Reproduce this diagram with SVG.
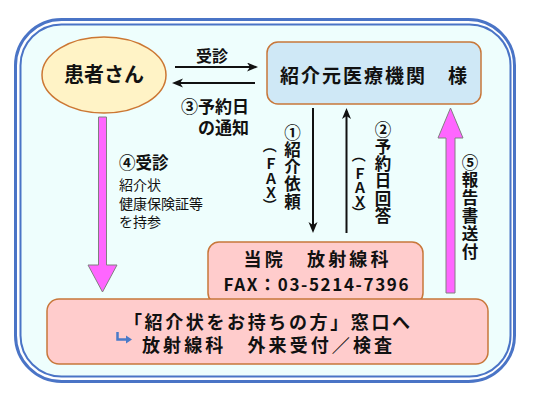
<svg xmlns="http://www.w3.org/2000/svg" width="534" height="400" viewBox="0 0 534 400">
<defs>
<style>
text{font-family:"Noto Sans CJK JP","Noto Sans",sans-serif;fill:#111;dominant-baseline:central}
.b{font-weight:bold}
.box{stroke:#c8773a;stroke-width:1.5}
.pink{fill:#ffcccc}
.ln{stroke:#111;stroke-width:2;fill:none}
.pa{fill:#ff66ff;stroke:#808080;stroke-width:1}
.vc{font-weight:bold;text-anchor:middle;font-size:16.5px}
.vf{font-weight:bold;text-anchor:middle;font-size:14px}
</style>
<marker id="ah" markerUnits="userSpaceOnUse" markerWidth="12" markerHeight="10" refX="8" refY="4.5" orient="auto">
<path d="M0,0 L11,4.5 L0,9 L3,4.5 z" fill="#111"/>
</marker>
</defs>
<rect width="534" height="400" fill="#fff"/>
<g id="frame">
<rect x="15.5" y="19.5" width="499" height="362" rx="46" fill="#fff" stroke="#4a74c6" stroke-width="3"/>
<rect x="20.5" y="24.5" width="490" height="352" rx="41" fill="#eefefd" stroke="#4a74c6" stroke-width="2"/>
</g>
<g id="connectors">
<line class="ln" x1="175" y1="67" x2="255" y2="67" marker-end="url(#ah)"/>
<line class="ln" x1="255" y1="83" x2="175" y2="83" marker-end="url(#ah)"/>
<line class="ln" x1="313" y1="108" x2="313" y2="230" marker-end="url(#ah)"/>
<line class="ln" x1="346.5" y1="233" x2="346.5" y2="111" marker-end="url(#ah)"/>
<polygon class="pa" points="98.5,117 106.5,117 106.5,265 117,265 102.5,292 88,265 98.5,265"/>
<polygon class="pa" points="446,293 455,293 455,138 463,138 450.5,108 438,138 446,138"/>
</g>
<g id="labels">
<text x="212" y="55" font-size="16" text-anchor="middle" class="b">受診</text>
<text x="249" y="105.5" font-size="17" text-anchor="end" class="b">③予約日</text>
<text x="249" y="126.5" font-size="17" text-anchor="end" class="b">の通知</text>
<text x="119" y="162" font-size="16.5" class="b">④受診</text>
<text x="119" y="183.5" font-size="14">紹介状</text>
<text x="119" y="202.5" font-size="14">健康保険証等</text>
<text x="119" y="220.5" font-size="14">を持参</text>
<g id="label1">
<text class="vc"><tspan x="292.5" y="131.5">①</tspan><tspan x="292.5" y="148.8">紹</tspan><tspan x="292.5" y="166.1">介</tspan><tspan x="292.5" y="183.4">依</tspan><tspan x="292.5" y="200.7">頼</tspan></text>
</g>
<g id="fax1">
<text class="vf" x="271" y="146" transform="rotate(90 271 146)">（</text>
<text class="vf"><tspan x="271" y="163">Ｆ</tspan><tspan x="271" y="177.5">Ａ</tspan><tspan x="271" y="192">Ｘ</tspan></text>
<text class="vf" x="271" y="205" transform="rotate(90 271 205)">）</text>
</g>
<g id="label2">
<text class="vc"><tspan x="383" y="128.5">②</tspan><tspan x="383" y="145.8">予</tspan><tspan x="383" y="163.1">約</tspan><tspan x="383" y="180.4">日</tspan><tspan x="383" y="197.7">回</tspan><tspan x="383" y="215">答</tspan></text>
</g>
<g id="fax2">
<text class="vf" x="360" y="155.5" transform="rotate(90 360 155.5)">（</text>
<text class="vf"><tspan x="360" y="173">Ｆ</tspan><tspan x="360" y="187">Ａ</tspan><tspan x="360" y="200.5">Ｘ</tspan></text>
<text class="vf" x="360" y="212.5" transform="rotate(90 360 212.5)">）</text>
</g>
<g id="label5">
<text class="vc"><tspan x="470" y="161.5">⑤</tspan><tspan x="470" y="179.3">報</tspan><tspan x="470" y="197.1">告</tspan><tspan x="470" y="214.9">書</tspan><tspan x="470" y="232.7">送</tspan><tspan x="470" y="250.5">付</tspan></text>
</g>
</g>
<g id="patient">
<ellipse cx="104" cy="75" rx="62" ry="38" fill="#fff3c6" stroke="#cc7733" stroke-width="1.5"/>
<text x="104" y="73.5" font-size="20" text-anchor="middle" class="b">患者さん</text>
</g>
<g id="referrer">
<rect class="box" x="267" y="42" width="214" height="62" rx="11" fill="#cfe8f6"/>
<text x="280" y="74" font-size="19" class="b" textLength="187" lengthAdjust="spacing">紹介元医療機関　様</text>
</g>
<g id="radiology">
<rect class="box pink" x="208" y="242" width="215" height="62" rx="11"/>
<text x="243.5" y="258" font-size="18" class="b" textLength="145" lengthAdjust="spacing">当院　放射線科</text>
<text x="223.5" y="283" font-size="17" class="b" textLength="185" lengthAdjust="spacing">FAX：03-5214-7396</text>
</g>
<g id="reception">
<rect class="box pink" x="47" y="299" width="441" height="65" rx="12"/>
<text x="124" y="321" font-size="18" class="b" textLength="286" lengthAdjust="spacing">「紹介状をお持ちの方」窓口へ</text>
<path d="M117.5,332 V339.5 H127" fill="none" stroke="#4a7ac8" stroke-width="2.5"/>
<path d="M126,335.5 L132,339.5 L126,343.5 z" fill="#4a7ac8"/>
<text x="142" y="344" font-size="18" class="b" textLength="250" lengthAdjust="spacing">放射線科　外来受付／検査</text>
</g>
</svg>
